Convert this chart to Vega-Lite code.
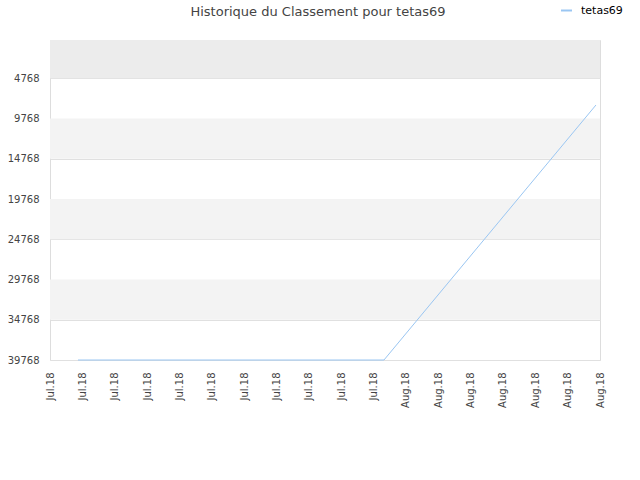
{
  "$schema": "https://vega.github.io/schema/vega-lite/v6.json",
  "width": 550,
  "height": 320,
  "autosize": {"type": "none"},
  "padding": {"left": 50, "top": 40, "right": 40, "bottom": 120},
  "background": "white",
  "title": {
    "text": "Historique du Classement pour tetas69",
    "font": "DejaVu Sans",
    "fontSize": 13,
    "fontWeight": "normal",
    "color": "#444444",
    "anchor": "middle",
    "dx": -7,
    "dy": 36,
    "offset": 21
  },
  "datasets": {
    "bands": [
      {"from": 0, "to": 4768, "kind": "top"},
      {"from": 9768, "to": 14768, "kind": "alt"},
      {"from": 19768, "to": 24768, "kind": "alt"},
      {"from": 29768, "to": 34768, "kind": "alt"}
    ],
    "ranks": [
      {"date": "2018-07-11T17:30:00", "rank": 39768, "player": "tetas69"},
      {"date": "2018-07-30T15:30:00", "rank": 39768, "player": "tetas69"},
      {"date": "2018-08-12T18:00:00", "rank": 8080, "player": "tetas69"}
    ]
  },
  "layer": [
    {
      "data": {"name": "bands"},
      "mark": {"type": "rect"},
      "encoding": {
        "y": {"field": "from", "type": "quantitative", "scale": {"domain": [0, 39768], "reverse": true, "nice": false, "zero": false}},
        "y2": {"field": "to"},
        "fill": {"field": "kind", "type": "nominal", "scale": {"domain": ["top", "alt"], "range": ["#ececec", "#f3f3f3"]}, "legend": null}
      }
    },
    {
      "data": {"name": "ranks"},
      "mark": {"type": "line", "strokeWidth": 1, "interpolate": "linear"},
      "encoding": {
        "x": {
          "field": "date",
          "type": "temporal",
          "scale": {"domain": [{"year": 2018, "month": 7, "date": 10}, {"year": 2018, "month": 8, "date": 13}]},
          "axis": {
            "title": null,
            "format": "%b.%y",
            "values": [
              {"year": 2018, "month": 7, "date": 10}, {"year": 2018, "month": 7, "date": 12},
              {"year": 2018, "month": 7, "date": 14}, {"year": 2018, "month": 7, "date": 16},
              {"year": 2018, "month": 7, "date": 18}, {"year": 2018, "month": 7, "date": 20},
              {"year": 2018, "month": 7, "date": 22}, {"year": 2018, "month": 7, "date": 24},
              {"year": 2018, "month": 7, "date": 26}, {"year": 2018, "month": 7, "date": 28},
              {"year": 2018, "month": 7, "date": 30}, {"year": 2018, "month": 8, "date": 1},
              {"year": 2018, "month": 8, "date": 3}, {"year": 2018, "month": 8, "date": 5},
              {"year": 2018, "month": 8, "date": 7}, {"year": 2018, "month": 8, "date": 9},
              {"year": 2018, "month": 8, "date": 11}, {"year": 2018, "month": 8, "date": 13}
            ],
            "labelAngle": -90,
            "labelAlign": "right",
            "labelBaseline": "middle",
            "labelPadding": 12,
            "labelOverlap": false,
            "labelFlush": false,
            "grid": false,
            "ticks": false,
            "tickSize": 0,
            "domain": false
          }
        },
        "y": {
          "field": "rank",
          "type": "quantitative",
          "scale": {"domain": [0, 39768], "reverse": true, "nice": false, "zero": false},
          "axis": {
            "title": null,
            "values": [4768, 9768, 14768, 19768, 24768, 29768, 34768, 39768],
            "format": "d",
            "grid": true,
            "gridColor": "#e0e0e0",
            "ticks": false,
            "tickSize": 0,
            "domain": false,
            "labelPadding": 11,
            "labelFlush": false
          }
        },
        "color": {
          "field": "player",
          "type": "nominal",
          "scale": {"range": ["#9ac6f2"]},
          "legend": {
            "title": null,
            "orient": "none",
            "legendX": 510,
            "legendY": -36,
            "symbolType": "stroke",
            "symbolStrokeWidth": 2,
            "symbolSize": 120,
            "labelFontSize": 11,
            "labelColor": "#000000",
            "labelOffset": 8
          }
        }
      }
    }
  ],
  "config": {
    "font": "DejaVu Sans",
    "view": {"stroke": "#dddddd"},
    "axis": {"labelFont": "DejaVu Sans", "labelFontSize": 10, "labelColor": "#444444"},
    "legend": {"labelFont": "DejaVu Sans"}
  }
}
